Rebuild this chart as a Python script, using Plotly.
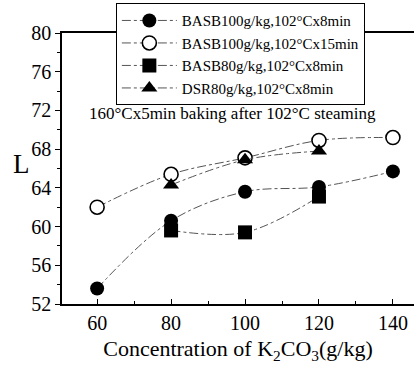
import plotly.graph_objects as go

conc_a = [60, 80, 100, 120, 140]
basb100_8 = [53.6, 60.6, 63.6, 64.1, 65.7]
conc_b = [60, 80, 100, 120, 140]
basb100_15 = [62.0, 65.4, 67.1, 68.9, 69.2]
conc_c = [80, 100, 120]
basb80_8 = [59.6, 59.4, 63.1]
conc_d = [80, 100, 120]
dsr80_8 = [64.3, 66.9, 67.8]

names = ["BASB100g/kg,102°Cx8min", "BASB100g/kg,102°Cx15min",
         "BASB80g/kg,102°Cx8min", "DSR80g/kg,102°Cx8min"]

FONT = "Liberation Serif"

fig = go.Figure()
series = [
    (conc_a, basb100_8, "circle"),
    (conc_b, basb100_15, "circle-open"),
    (conc_c, basb80_8, "square"),
    (conc_d, dsr80_8, "triangle-up"),
]
for (xs, ys, sym), nm in zip(series, names):
    mk = dict(symbol=sym, size=14, color="black")
    if sym == "circle-open":
        mk = dict(symbol="circle", size=14, color="white", line=dict(color="black", width=1.6))
    fig.add_trace(go.Scatter(
        x=xs, y=ys, name=nm, mode="lines+markers",
        line=dict(color="#555555", width=1, dash="dashdot", shape="spline"),
        marker=mk,
    ))

fig.add_annotation(x=0.483, y=71.7, xref="paper", yref="y", text="160°Cx5min baking after 102°C steaming",
                   showarrow=False, font=dict(family=FONT, size=17, color="black"), yanchor="middle")
fig.add_annotation(x=-0.114, y=0.517, xref="paper", yref="paper", text="L",
                   showarrow=False, font=dict(family=FONT, size=27, color="black"),
                   xanchor="center", yanchor="middle")

fig.update_layout(
    width=414, height=371,
    margin=dict(l=62, r=0, t=33, b=67),
    paper_bgcolor="white", plot_bgcolor="white",
    font=dict(family=FONT, color="black"),
    showlegend=True,
    legend=dict(x=0.153, y=1.11, xanchor="left", yanchor="top",
                bgcolor="white", bordercolor="black", borderwidth=1,
                font=dict(family=FONT, size=15, color="black"),
                itemwidth=55, tracegroupgap=0),
    xaxis=dict(range=[50.5, 145.7], tickvals=[60, 80, 100, 120, 140],
               showline=True, linecolor="black", linewidth=1.5, mirror=True,
               ticks="inside", ticklen=5, tickcolor="black",
               minor=dict(dtick=10, tick0=0, ticks="inside", ticklen=3, tickcolor="black"),
               showgrid=False, zeroline=False,
               tickfont=dict(family=FONT, size=20, color="black"),
               title=dict(text="Concentration of K<sub>2</sub>CO<sub>3</sub>(g/kg)",
                          font=dict(family=FONT, size=22, color="black"), standoff=8)),
    yaxis=dict(range=[52, 80], tickvals=[52, 56, 60, 64, 68, 72, 76, 80],
               showline=True, linecolor="black", linewidth=1.5,
               ticks="outside", ticklen=5, tickcolor="black",
               minor=dict(dtick=2, tick0=0, ticks="outside", ticklen=3, tickcolor="black"),
               showgrid=False, zeroline=False,
               tickfont=dict(family=FONT, size=20, color="black")),
)

fig.write_html("out.html")
